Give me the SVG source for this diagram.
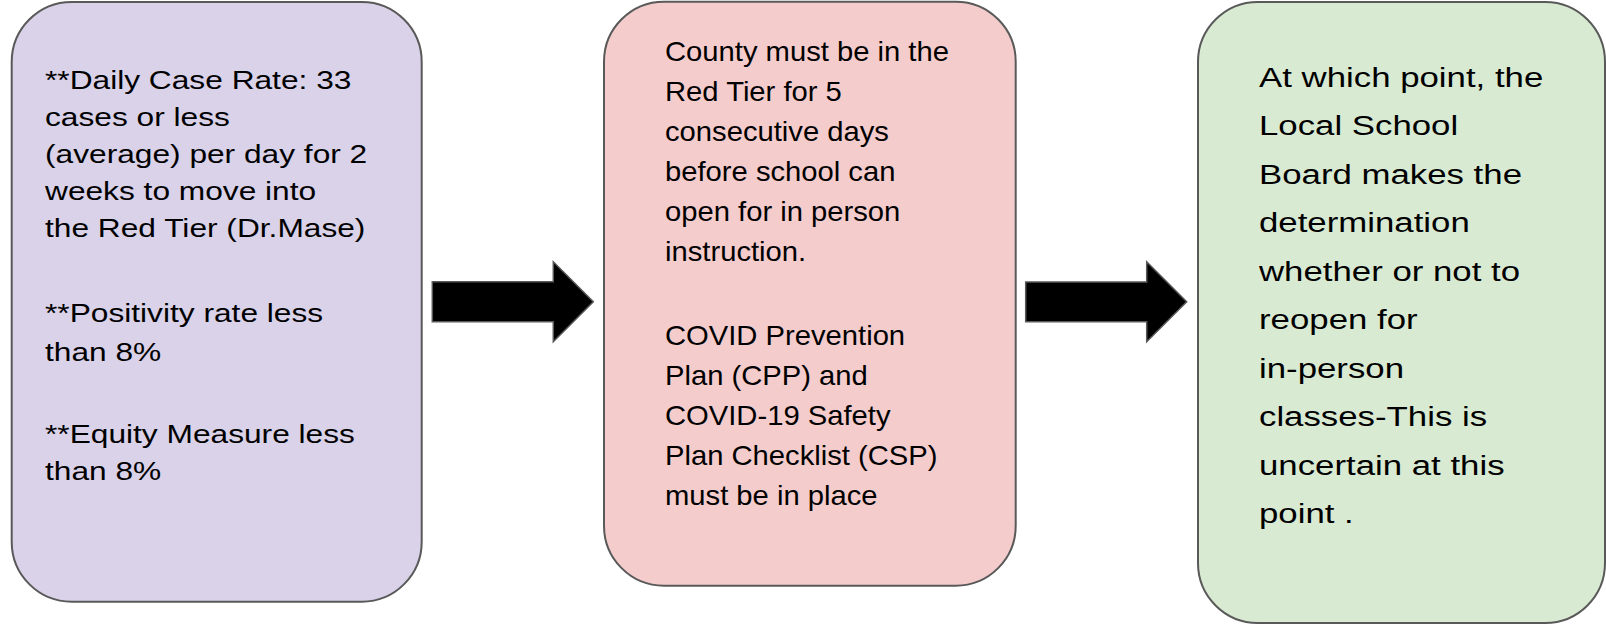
<svg xmlns="http://www.w3.org/2000/svg" width="1606" height="625" viewBox="0 0 1606 625">
<style>
.box{stroke:#595959;stroke-width:2}
.t{font-family:"Liberation Sans",Arial,sans-serif;fill:#000}
.tl{font-size:31.7px}
.tm{font-size:29.2px}
.tr{font-size:34.8px}
.arrow{fill:#000;stroke:#595959;stroke-width:1.5;stroke-linejoin:miter}
</style>
<rect width="1606" height="625" fill="#ffffff"/>
<g id="connectors">
<path class="arrow" d="M432.3,281.7 H553.3 V261.7 L593.3,301.7 L553.3,341.7 V321.7 H432.3 Z"/>
<path class="arrow" d="M1025.7,282 H1146.7 V261.7 L1186.7,301.7 L1146.7,341.7 V321.7 H1025.7 Z"/>
</g>
<g id="node-criteria">
<rect class="box" x="11.7" y="2" width="410" height="599.7" rx="60" ry="60" fill="#d9d2e9"/>
<g class="t tl">
<text transform="translate(45 89) scale(1 0.82)">**Daily Case Rate: 33</text>
<text transform="translate(45 126) scale(1 0.82)">cases or less</text>
<text transform="translate(45 163) scale(1 0.82)">(average) per day for 2</text>
<text transform="translate(45 200) scale(1 0.82)">weeks to move into</text>
<text transform="translate(45 237) scale(1 0.82)">the Red Tier (Dr.Mase)</text>
<text transform="translate(45 322) scale(1 0.82)">**Positivity rate less</text>
<text transform="translate(45 360.5) scale(1 0.82)">than 8%</text>
<text transform="translate(45 442.5) scale(1 0.82)">**Equity Measure less</text>
<text transform="translate(45 480) scale(1 0.82)">than 8%</text>
</g>
</g>
<g id="node-red-tier">
<rect class="box" x="604" y="1.7" width="411.7" height="584" rx="60" ry="60" fill="#f4cccc"/>
<g class="t tm">
<text transform="translate(665 61) scale(1 0.92)">County must be in the</text>
<text transform="translate(665 101) scale(1 0.92)">Red Tier for 5</text>
<text transform="translate(665 141) scale(1 0.92)">consecutive days</text>
<text transform="translate(665 181) scale(1 0.92)">before school can</text>
<text transform="translate(665 221) scale(1 0.92)">open for in person</text>
<text transform="translate(665 261) scale(1 0.92)">instruction.</text>
<text transform="translate(665 345) scale(1 0.92)">COVID Prevention</text>
<text transform="translate(665 385) scale(1 0.92)">Plan (CPP) and</text>
<text transform="translate(665 425) scale(1 0.92)">COVID-19 Safety</text>
<text transform="translate(665 465) scale(1 0.92)">Plan Checklist (CSP)</text>
<text transform="translate(665 505) scale(1 0.92)">must be in place</text>
</g>
</g>
<g id="node-school-board">
<rect class="box" x="1198" y="2" width="407" height="621" rx="60" ry="60" fill="#d9ead3"/>
<g class="t tr">
<text transform="translate(1259 87) scale(1 0.81)">At which point, the</text>
<text transform="translate(1259 135.4) scale(1 0.81)">Local School</text>
<text transform="translate(1259 183.9) scale(1 0.81)">Board makes the</text>
<text transform="translate(1259 232.3) scale(1 0.81)">determination</text>
<text transform="translate(1259 280.8) scale(1 0.81)">whether or not to</text>
<text transform="translate(1259 329.2) scale(1 0.81)">reopen for</text>
<text transform="translate(1259 377.6) scale(1 0.81)">in-person</text>
<text transform="translate(1259 426.1) scale(1 0.81)">classes-This is</text>
<text transform="translate(1259 474.5) scale(1 0.81)">uncertain at this</text>
<text transform="translate(1259 523) scale(1 0.81)">point .</text>
</g>
</g>
</svg>
